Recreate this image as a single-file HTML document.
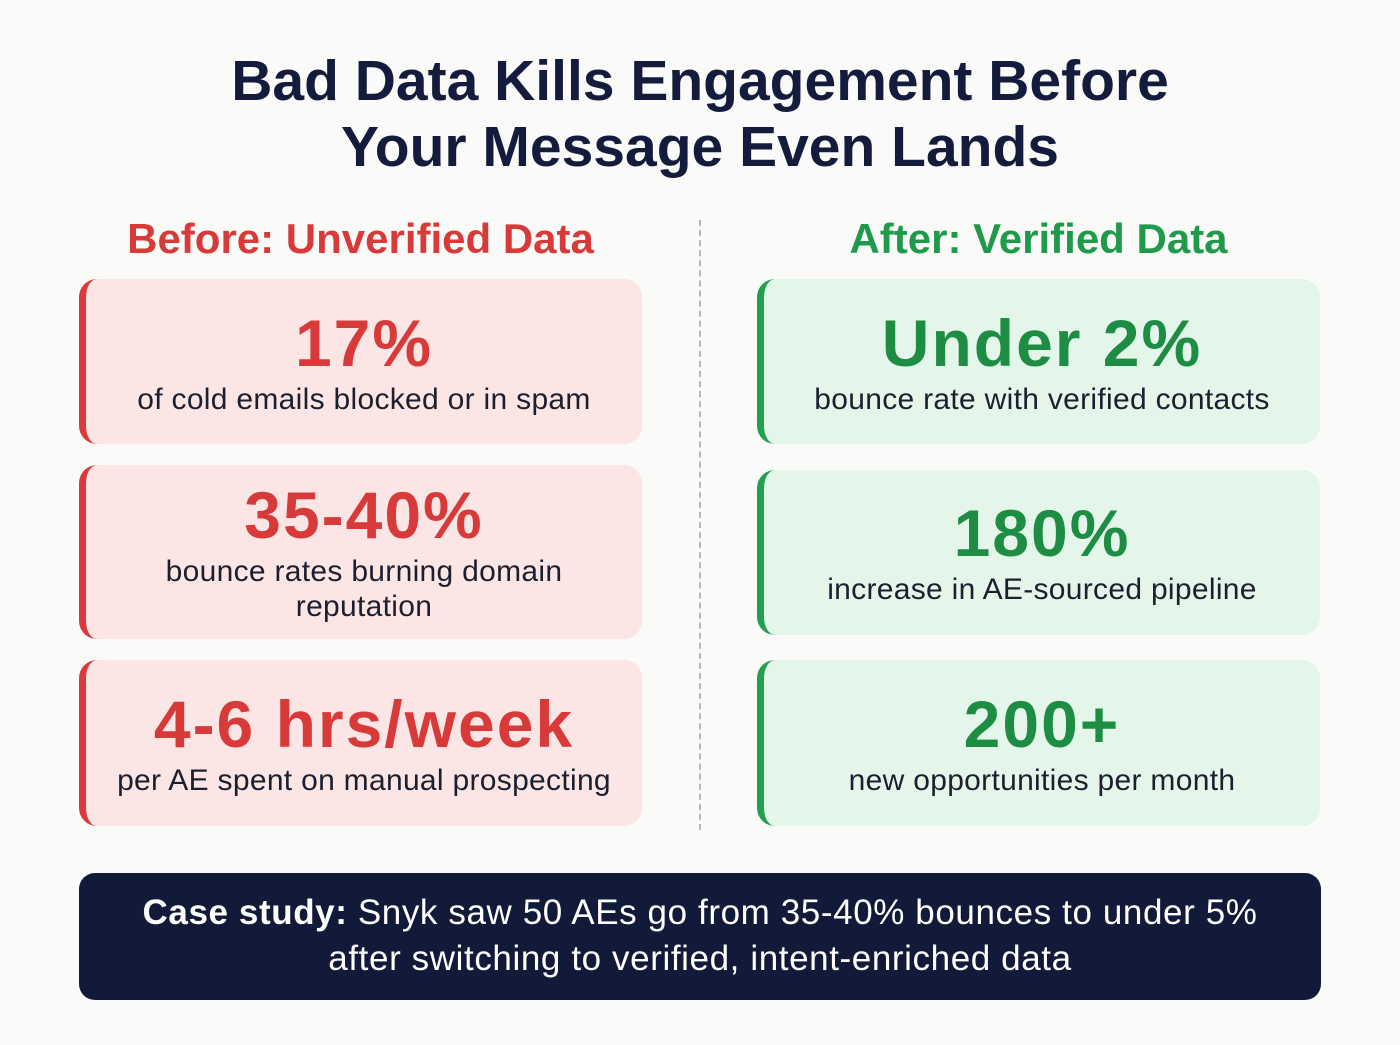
<!DOCTYPE html>
<html><head><meta charset="utf-8"><style>
*{margin:0;padding:0;box-sizing:border-box}
body{width:1400px;height:1045px;background:#fafaf8;font-family:"Liberation Sans",sans-serif;position:relative;overflow:hidden}
.t{position:absolute;left:0;width:1400px;text-align:center;font-weight:bold;color:#141b3c;font-size:57px;letter-spacing:0px;line-height:66px}
.h{position:absolute;font-weight:bold;font-size:42px;text-align:center;width:563px}
.card{position:absolute;width:563px;border-radius:18px;text-align:center}
.red{background:#fbe5e5;border-left:7px solid #dc3a3a}
.grn{background:#e4f6ea;border-left:7px solid #22a04f}
.big{font-weight:bold;font-size:66px;line-height:1;letter-spacing:2px}
.red .big{color:#d83a3a}.grn .big{color:#1c8d43}
.sub{font-size:30px;color:#1c1f2e;line-height:35px;letter-spacing:0.3px}
</style></head><body>
<div class="t" style="top:48px">Bad Data Kills Engagement Before</div>
<div class="t" style="top:114px">Your Message Even Lands</div>
<div class="h" style="left:79px;top:215px;color:#d83a3a">Before: Unverified Data</div>
<div class="h" style="left:757px;top:215px;color:#1f9a4a">After: Verified Data</div>
<div style="position:absolute;left:699px;top:220px;height:610px;border-left:2px dashed #b8b8b8"></div>

<div class="card red" style="left:79px;top:279px;height:165px">
<div class="big" style="margin-top:31px">17%</div><div class="sub" style="margin-top:6px">of cold emails blocked or in spam</div></div>
<div class="card red" style="left:79px;top:465px;height:174px">
<div class="big" style="margin-top:17px">35-40%</div><div class="sub" style="margin-top:6px">bounce rates burning domain<br>reputation</div></div>
<div class="card red" style="left:79px;top:660px;height:166px">
<div class="big" style="margin-top:31px">4-6 hrs/week</div><div class="sub" style="margin-top:6px">per AE spent on manual prospecting</div></div>

<div class="card grn" style="left:757px;top:279px;height:165px">
<div class="big" style="margin-top:31px">Under 2%</div><div class="sub" style="margin-top:6px">bounce rate with verified contacts</div></div>
<div class="card grn" style="left:757px;top:470px;height:165px">
<div class="big" style="margin-top:30px">180%</div><div class="sub" style="margin-top:6px">increase in AE-sourced pipeline</div></div>
<div class="card grn" style="left:757px;top:660px;height:166px">
<div class="big" style="margin-top:31px">200+</div><div class="sub" style="margin-top:6px">new opportunities per month</div></div>

<div style="position:absolute;left:79px;top:873px;width:1242px;height:127px;background:#111a38;border-radius:16px;color:#fff;text-align:center;font-size:35px;line-height:46px;padding-top:17px;letter-spacing:0.6px">
<b>Case study:</b> Snyk saw 50 AEs go from 35-40% bounces to under 5%<br>after switching to verified, intent-enriched data</div>
</body></html>
